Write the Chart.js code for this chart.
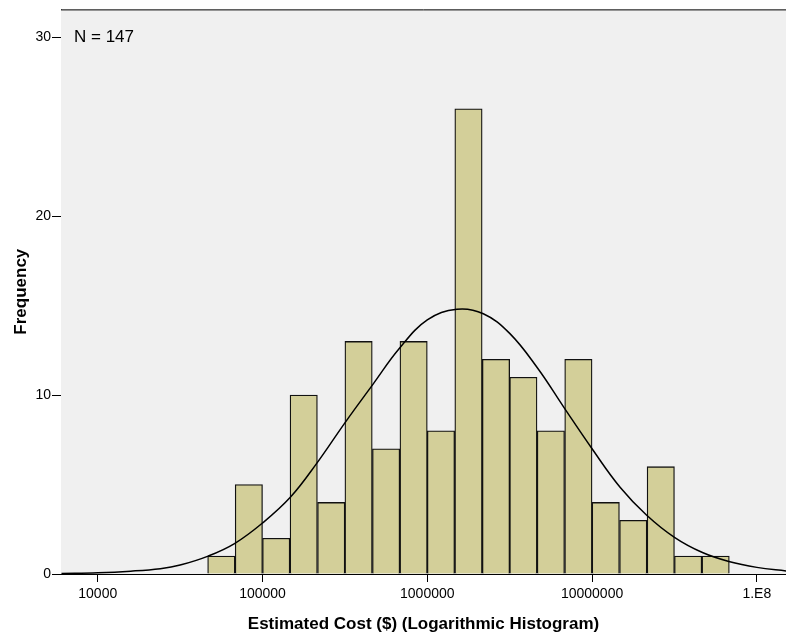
<!DOCTYPE html>
<html>
<head>
<meta charset="utf-8">
<script src="https://cdn.jsdelivr.net/npm/chart.js@4"></script>
<style>
  body { margin: 0; background: #fff; }
  #wrap { width: 786px; height: 636px; }
</style>
</head>
<body>
<div id="wrap"><canvas id="histChart" width="786" height="636"></canvas></div>
<script>
// bin centres (log10 of cost), 1/6 decade wide
const binCenters = [4.75, 4.917, 5.083, 5.25, 5.417, 5.583, 5.75, 5.917, 6.083, 6.25,
                    6.417, 6.583, 6.75, 6.917, 7.083, 7.25, 7.417, 7.583, 7.75];
const counts = [1, 5, 2, 10, 4, 13, 7, 13, 8, 26, 12, 11, 8, 12, 4, 3, 6, 1, 1];

// normal curve
const curveX = [3.78, 4.0, 4.2, 4.38, 4.5, 4.67, 4.83, 5.0, 5.17, 5.33, 5.5, 5.67, 5.83, 6.0,
                6.18, 6.34, 6.5, 6.67, 6.83, 7.0, 7.17, 7.33, 7.5, 7.67, 7.83, 8.0, 8.18];
const curveY = [0.03, 0.07, 0.16, 0.3, 0.5, 1.0, 1.7, 2.85, 4.3, 6.2, 8.45, 10.6, 12.6, 14.2,
                14.8, 14.55, 13.45, 11.5, 9.3, 7.0, 4.85, 3.3, 2.05, 1.2, 0.7, 0.37, 0.17];

const xTicks = [4, 5, 6, 7, 8];
const xTickLabels = ['10000', '100000', '1000000', '10000000', '1.E8'];
const yTicks = [0, 10, 20, 30];

const font = 'Arial, "Liberation Sans", sans-serif';

// grey plot background + top frame line + N label
const plotBg = {
    id: 'plotBg',
    beforeDatasetsDraw(chart) {
        const { ctx, chartArea: a } = chart;
        ctx.save();
        ctx.fillStyle = '#f0f0f0';
        ctx.fillRect(a.left, a.top, a.right - a.left, a.bottom - a.top);
        ctx.strokeStyle = '#000';
        ctx.lineWidth = 1;
        ctx.beginPath();
        ctx.moveTo(a.left, a.top + 0.5);
        ctx.lineTo(a.right, a.top + 0.5);
        ctx.stroke();
        ctx.restore();
    },
    afterDraw(chart) {
        const { ctx, chartArea: a } = chart;
        ctx.save();
        ctx.fillStyle = '#000';
        ctx.font = '17px ' + font;
        ctx.textBaseline = 'middle';
        ctx.fillText('N = 147', a.left + 13, a.top + 28);
        ctx.restore();
    }
};

new Chart(document.getElementById('histChart'), {
    type: 'bar',
    data: {
        datasets: [{
            type: 'line',
            data: curveX.map((x, i) => ({ x: x, y: curveY[i] })),
            borderColor: '#000',
            borderWidth: 1.5,
            pointRadius: 0,
            tension: 0.4,
            fill: false,
            order: 0
        }, {
            type: 'bar',
            data: binCenters.map((x, i) => ({ x: x, y: counts[i] })),
            backgroundColor: '#d3cf99',
            borderColor: '#111',
            borderWidth: 1.3,
            barPercentage: 1,
            categoryPercentage: 1,
            order: 1
        }]
    },
    options: {
        responsive: false,
        animation: false,
        layout: { padding: { top: 9, right: 0, left: 0, bottom: 0 } },
        plugins: { legend: { display: false }, tooltip: { enabled: false } },
        scales: {
            x: {
                type: 'linear',
                min: 3.777,
                max: 8.177,
                offset: false,
                afterBuildTicks: s => { s.ticks = xTicks.map(v => ({ value: v })); },
                afterFit: s => { s.height = 62; },
                grid: { drawOnChartArea: false, offset: false, color: '#000', tickLength: 8 },
                border: { color: '#000', width: 1 },
                ticks: {
                    color: '#000', padding: 4, maxRotation: 0, autoSkip: false,
                    font: { family: font, size: 14 },
                    callback: (v) => xTickLabels[xTicks.indexOf(v)]
                },
                title: {
                    display: true,
                    text: 'Estimated Cost ($) (Logarithmic Histogram)',
                    color: '#000',
                    font: { family: font, size: 17, weight: 'bold' },
                    padding: { top: 0, bottom: 1 }
                }
            },
            y: {
                min: 0,
                max: 31.56,
                afterBuildTicks: s => { s.ticks = yTicks.map(v => ({ value: v })); },
                afterFit: s => { s.width = 61; },
                grid: { drawOnChartArea: false, color: '#000', tickLength: 9 },
                border: { color: '#000', width: 1 },
                ticks: { color: '#000', padding: 1, font: { family: font, size: 14 } },
                title: {
                    display: true,
                    text: 'Frequency',
                    color: '#000',
                    font: { family: font, size: 17, weight: 'bold' },
                    padding: { top: 11, bottom: 0 }
                }
            }
        }
    },
    plugins: [plotBg]
});
</script>
</body>
</html>
